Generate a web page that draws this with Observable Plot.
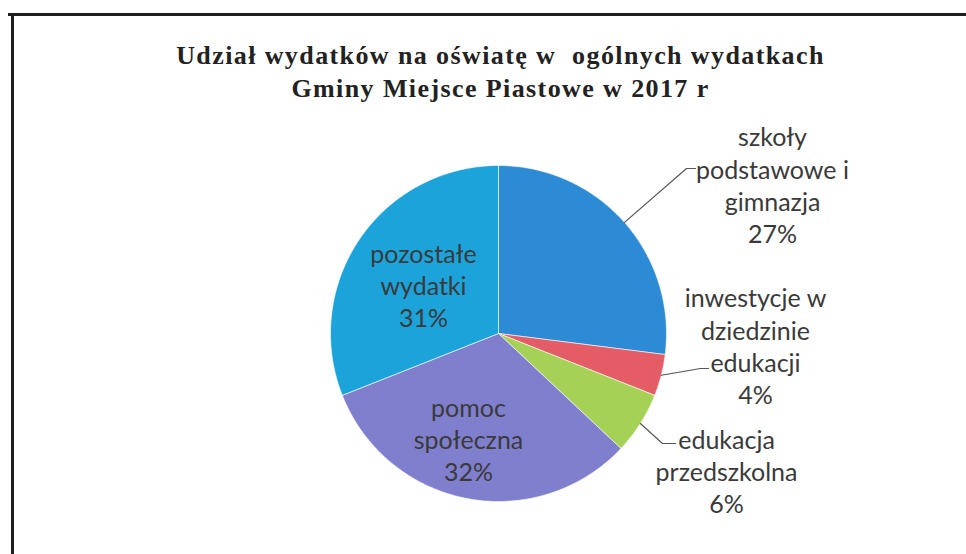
<!DOCTYPE html>
<html>
<head>
<meta charset="utf-8">
<script src="https://cdn.jsdelivr.net/npm/d3@7"></script>
<script src="https://cdn.jsdelivr.net/npm/@observablehq/plot@0.6"></script>
<style>
  html, body { margin: 0; padding: 0; background: #fff; }
  #wrap { position: relative; width: 966px; height: 554px; overflow: hidden; }
  .frameTop { position: absolute; left: 8px; top: 13px; width: 958px; height: 3px; background: #1e1e1e; }
  .frameLeft { position: absolute; left: 11px; top: 13px; width: 3px; height: 541px; background: #1e1e1e; }
  #chart { position: absolute; left: 0; top: 0; }
  #chart g[font-family="Liberation Serif"] text { letter-spacing: 1.4px; }
</style>
</head>
<body>
<div id="wrap">
  <div id="chart"></div>
  <div class="frameTop"></div>
  <div class="frameLeft"></div>
</div>
<script>
// ---- data ----
const categories = [
  "szkoły podstawowe i gimnazja",
  "inwestycje w dziedzinie edukacji",
  "edukacja przedszkolna",
  "pomoc społeczna",
  "pozostałe wydatki"
];
const values = [27, 4, 6, 32, 31];
const labelTexts = [
  "szkoły\npodstawowe i\ngimnazja\n27%",
  "inwestycje w\ndziedzinie\nedukacji\n4%",
  "edukacja\nprzedszkolna\n6%",
  "pomoc\nspołeczna\n32%",
  "pozostałe\nwydatki\n31%"
];
const colors = ["#2d8bd6", "#e45c66", "#a6d157", "#7f7fce", "#1ca3da"];
const titleText = "Udział wydatków na oświatę w  ogólnych wydatkach\nGminy Miejsce Piastowe w 2017 r";

// ---- layout (pixels) ----
const W = 966, H = 554;
const cx = 498, cy = 333, R = 168;
// label block centres (unit radius coordinates relative to pie centre) and leader elbows
const labelPos = [
  {x: (772 - cx) / R, y: (184 - cy) / R, outside: true, elbow: [(686 - cx) / R, (168 - cy) / R], end: [(695 - cx) / R, (168 - cy) / R]},
  {x: (755 - cx) / R, y: (345 - cy) / R, outside: true, elbow: [(700 - cx) / R, (368 - cy) / R], end: [(708 - cx) / R, (368 - cy) / R]},
  {x: (726 - cx) / R, y: (470 - cy) / R, outside: true, elbow: [(662 - cx) / R, (443 - cy) / R], end: [(675 - cx) / R, (443 - cy) / R]},
  {x: (468 - cx) / R, y: (438 - cy) / R, outside: false},
  {x: (423 - cx) / R, y: (284 - cy) / R, outside: false}
];

// ---- geometry derived from values ----
const total = d3.sum(values);
let acc = 0;
const slices = values.map((v, i) => {
  const a0 = acc / total * 2 * Math.PI;
  acc += v;
  const a1 = acc / total * 2 * Math.PI;
  return {cat: categories[i], value: v, a0, a1, mid: (a0 + a1) / 2};
});
const polyPts = [];
for (const s of slices) {
  polyPts.push({cat: s.cat, x: 0, y: 0});
  const n = Math.max(2, Math.ceil((s.a1 - s.a0) / (Math.PI / 180)));
  for (let k = 0; k <= n; k++) {
    const a = s.a0 + (s.a1 - s.a0) * k / n;
    polyPts.push({cat: s.cat, x: Math.sin(a), y: -Math.cos(a)});
  }
  polyPts.push({cat: s.cat, x: 0, y: 0});
}
const labels = slices.map((s, i) => ({cat: s.cat, text: labelTexts[i], x: labelPos[i].x, y: labelPos[i].y}));
const leaders = [];
slices.forEach((s, i) => {
  const p = labelPos[i];
  if (!p.outside) return;
  leaders.push({cat: s.cat, x: Math.sin(s.mid), y: -Math.cos(s.mid)});
  leaders.push({cat: s.cat, x: p.elbow[0], y: p.elbow[1]});
  leaders.push({cat: s.cat, x: p.end[0], y: p.end[1]});
});

const chart = Plot.plot({
  width: W,
  height: H,
  margin: 0,
  x: {domain: [-cx / R, (W - cx) / R], range: [0, W], axis: null},
  y: {domain: [-cy / R, (H - cy) / R], range: [0, H], axis: null},
  color: {domain: categories, range: colors},
  style: {background: "transparent", overflow: "visible"},
  marks: [
    Plot.line(polyPts, {x: "x", y: "y", z: "cat", fill: "cat", stroke: "#ffffff", strokeWidth: 1, strokeOpacity: 0.6, curve: "linear"}),
    Plot.line(leaders, {x: "x", y: "y", z: "cat", stroke: "#555", strokeWidth: 1.2}),
    Plot.text(labels, {x: "x", y: "y", text: "text", fontFamily: "Lato", fontSize: 25, lineHeight: 1.29, fill: "#3a3a3a"}),
    Plot.text([titleText], {frameAnchor: "top", dx: 17, dy: 40, lineAnchor: "top", lineHeight: 1.27, text: d => d,
      fontFamily: "Liberation Serif", fontWeight: "bold", fontSize: 26, fill: "#222"})
  ]
});
document.getElementById("chart").appendChild(chart);
</script>
</body>
</html>
